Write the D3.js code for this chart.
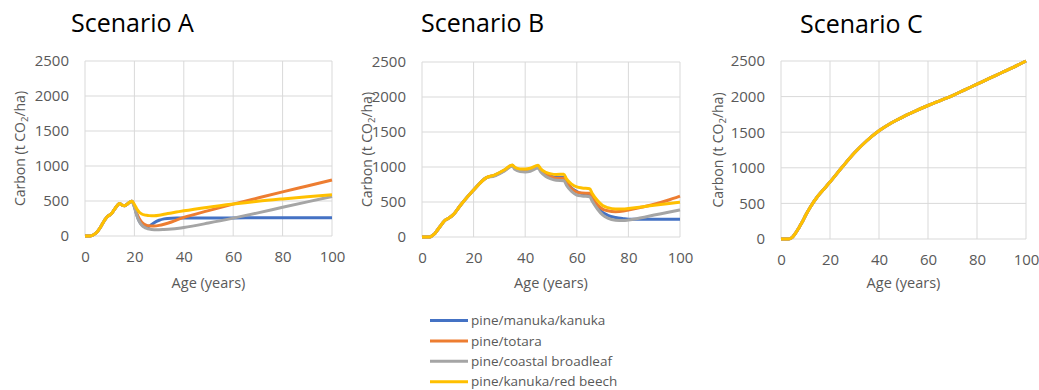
<!DOCTYPE html>
<html>
<head>
<meta charset="utf-8">
<script src="https://cdn.jsdelivr.net/npm/d3@7"></script>
<style>
  body { margin: 0; background: #fff; }
  text { font-family: "Open Sans", "Noto Sans", sans-serif; }
</style>
</head>
<body>
<svg id="container" width="1039" height="390"></svg>
<script>
//data

var seriesNames = ['pine/manuka/kanuka', 'pine/totara', 'pine/coastal broadleaf', 'pine/kanuka/red beech'];
var seriesColors = ['#4472C4', '#ED7D31', '#A5A5A5', '#FFC000'];

var xTicks = [0, 20, 40, 60, 80, 100];
var yTicks = [0, 500, 1000, 1500, 2000, 2500];

// scenario A
var agesA = [0,2,3,4,5,6,7,8,9,10,11,12,13,14,15,16,17,18,19,20,21,22,23,24,25,26,27,28,30,32,35,38,40,50,60,70,80,90,100];
var earlyA = [0,0,10,30,62,110,170,228,276,300,333,385,433,466,440,433,452,480,495]; //years 0-19, all series
var blueA   = earlyA.concat([420,300,210,160,135,128,140,165,190,225,245,255,257,258,258,258,260,260,262,262]);
var orangeA = earlyA.concat([425,320,245,195,168,152,145,142,143,152,168,200,240,265,362,455,543,630,715,800]);
var grayA   = earlyA.concat([410,290,205,155,125,108,98,92,90,90,93,100,112,122,185,255,330,410,488,565]);
var yellowA = earlyA.concat([450,385,340,315,302,295,291,289,290,298,310,330,348,360,412,457,497,530,560,588]);

// scenario B
var agesB = [0,3,4,5,6,7,8,9,10,11,12,15,20,25,28,32,35,36,38,40,42,45,46,48,50,52,55,56,58,60,62,65,66,68,70,72,75,78,80,85,90,95,100];
var earlyB = [0,0,20,50,100,150,200,240,262,285,315,457,671,848]; //years 0-25, all series
var blueB   = earlyB.concat([880,955,1025,985,960,957,968,1005,955,900,870,855,852,790,700,650,620,605,540,430,350,310,278,262,255,253,253,253,253]);
var orangeB = earlyB.concat([878,952,1022,980,950,945,955,1012,955,890,860,840,838,780,690,640,628,624,560,460,398,375,362,370,385,425,467,522,585]);
var grayB   = earlyB.concat([870,945,1010,965,935,930,940,985,930,865,830,810,805,740,650,600,585,576,510,400,315,270,240,235,243,275,314,350,388]);
var yellowB = earlyB.concat([885,960,1030,995,972,970,982,1025,975,925,902,893,897,830,755,715,700,690,620,520,450,420,400,400,408,430,453,476,498]);

// scenario C (all series overlap)
var agesC = [0,3,4,5,6,7,8,9,10,12,15,18,20,25,30,35,40,45,50,55,60,65,70,75,80,85,90,95,100];
var valuesC = [0,0,10,40,85,140,200,260,330,450,600,720,800,1010,1210,1380,1520,1630,1720,1800,1875,1945,2015,2095,2175,2255,2335,2415,2500];

//chart setup
var svg = d3.select('#container');
svg.append('rect').attr('width', 1039).attr('height', 390).attr('fill', '#fff');

var panels = [
  {title: 'Scenario A', titleX: 71, titleY: 32, left: 85, right: 332, top: 61, bottom: 236, axisX: 20,
   ages: agesA, series: [blueA, orangeA, grayA, yellowA]},
  {title: 'Scenario B', titleX: 421, titleY: 32, left: 422, right: 680, top: 62, bottom: 237, axisX: 367,
   ages: agesB, series: [blueB, orangeB, grayB, yellowB]},
  {title: 'Scenario C', titleX: 800, titleY: 33, left: 781, right: 1026, top: 61, bottom: 239, axisX: 718,
   ages: agesC, series: [valuesC, valuesC, valuesC, valuesC]}
];

panels.forEach(drawPanel);
drawLegend();

function drawPanel(p){
  var x = d3.scaleLinear().domain([0, 100]).range([p.left, p.right]);
  var y = d3.scaleLinear().domain([0, 2500]).range([p.bottom, p.top]);
  var g = svg.append('g');

  //gridlines
  g.append('g')
    .selectAll('line.h')
      .data(yTicks)
    .enter().append('line')
      .attr('x1', p.left).attr('x2', p.right)
      .attr('y1', d => y(d)).attr('y2', d => y(d))
      .attr('stroke', '#d9d9d9').attr('stroke-width', 1);
  g.append('g')
    .selectAll('line.v')
      .data(xTicks)
    .enter().append('line')
      .attr('x1', d => x(d)).attr('x2', d => x(d))
      .attr('y1', p.top).attr('y2', p.bottom)
      .attr('stroke', '#d9d9d9').attr('stroke-width', 1);

  //axes, labels only (no thousands separator, like the original)
  var yAxis = g.append('g')
      .attr('transform', `translate(${p.left}, 0)`)
      .call(d3.axisLeft(y).tickValues(yTicks).tickFormat(d3.format('d')).tickSize(0).tickPadding(16));
  var xAxis = g.append('g')
      .attr('transform', `translate(0, ${p.bottom})`)
      .call(d3.axisBottom(x).tickValues(xTicks).tickFormat(d3.format('d')).tickSize(0).tickPadding(15));
  [xAxis, yAxis].forEach(function(a){
    a.select('.domain').remove();
    a.selectAll('text')
      .attr('fill', '#595959')
      .style('font-size', '15px')
      .style('font-family', '"Open Sans", sans-serif');
  });

  //axis titles
  var yt = g.append('text')
      .attr('text-anchor', 'middle')
      .attr('transform', `translate(${p.axisX + 5}, ${(p.top + p.bottom)/2}) rotate(-90)`)
      .attr('fill', '#595959')
      .style('font-size', '14px');
  yt.append('tspan').text('Carbon (t CO');
  yt.append('tspan').text('2').style('font-size', '9.5px').attr('dy', 3);
  yt.append('tspan').text('/ha)').attr('dy', -3);

  g.append('text')
      .attr('text-anchor', 'middle')
      .attr('x', (p.left + p.right)/2)
      .attr('y', 288)
      .attr('fill', '#595959')
      .style('font-size', '14.5px')
      .text('Age (years)');

  //title
  g.append('text')
      .attr('x', p.titleX)
      .attr('y', p.titleY)
      .attr('fill', '#000')
      .style('font-size', '25px')
      .text(p.title);

  //lines, yellow drawn last so it sits on top
  var line = d3.line()
      .x((d, i) => x(p.ages[i]))
      .y(d => y(d))
      .curve(d3.curveMonotoneX);
  g.append('g')
    .selectAll('path')
      .data(p.series)
    .enter().append('path')
      .attr('d', line)
      .attr('fill', 'none')
      .attr('stroke', (d, i) => seriesColors[i])
      .attr('stroke-width', 3)
      .attr('stroke-linejoin', 'round');
}

function drawLegend(){
  var rows = svg.append('g')
    .selectAll('g')
      .data(seriesNames)
    .enter().append('g')
      .attr('transform', (d, i) => `translate(430, ${320.5 + i*20.4})`);
  rows.append('line')
      .attr('x1', 0).attr('x2', 38)
      .attr('stroke', (d, i) => seriesColors[i])
      .attr('stroke-width', 3);
  rows.append('text')
      .attr('x', 41)
      .attr('dy', '0.35em')
      .attr('fill', '#595959')
      .style('font-size', '13.5px')
      .text(d => d);
}
</script>
</body>
</html>
